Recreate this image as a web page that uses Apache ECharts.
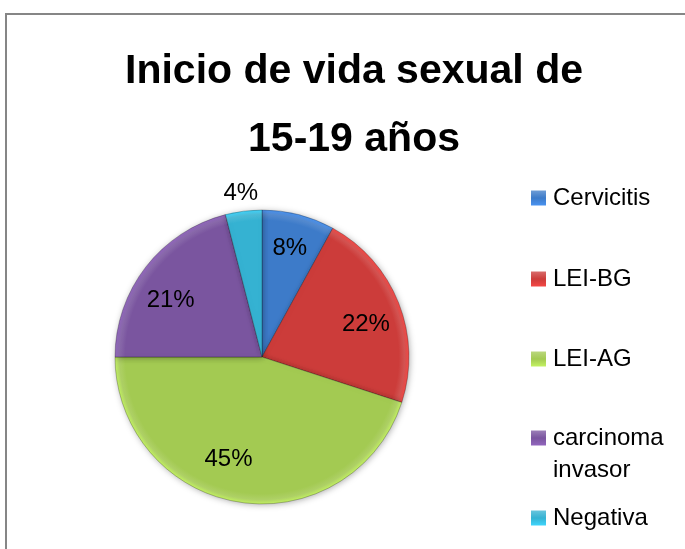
<!DOCTYPE html>
<html>
<head>
<meta charset="utf-8">
<script src="https://cdn.jsdelivr.net/npm/echarts@6/dist/echarts.min.js"></script>
<style>
    html, body { margin: 0; padding: 0; background: #fff; }
    #chart { width: 685px; height: 549px; }
</style>
</head>
<body>
<div id="chart"></div>
<script>
    // datos
    var categorias = ['Cervicitis', 'LEI-BG', 'LEI-AG', 'carcinoma invasor', 'Negativa'];
    var valores = [8, 22, 45, 21, 4];
    var colores = ['#3D7BC9', '#CC3C3A', '#A3CA52', '#7A559F', '#35B2D2'];
    var tituloLineas = ['Inicio de vida sexual de', '15-19 años'];

    var centro = [262, 357];
    var radio = 147;
    var fuente = 'Liberation Sans';
    // posicion vertical de cada entrada de la leyenda
    var leyendaTop = [182, 263, 343, 390, 502];
    // pequeños ajustes de etiquetas (como el "mejor ajuste" de Excel)
    var ajusteEtiqueta = {'LEI-BG': [0, 9], 'LEI-AG': [-16, -8], 'carcinoma invasor': [-3, 12], 'Negativa': [0, 4]};

    function relleno(c) {
        return new echarts.graphic.RadialGradient(centro[0], centro[1], radio, [
            {offset: 0, color: c},
            {offset: 0.93, color: c},
            {offset: 0.97, color: echarts.color.lift(c, 0.12)},
            {offset: 1, color: echarts.color.lift(c, -0.2)}
        ], true);
    }

    function icono(c) {
        return new echarts.graphic.LinearGradient(0, 0, 0, 1, [
            {offset: 0, color: echarts.color.lift(c, 0.25)},
            {offset: 0.5, color: c},
            {offset: 1, color: echarts.color.lift(c, -0.2)}
        ]);
    }

    var chart = echarts.init(document.getElementById('chart'));

    var leyendas = categorias.map(function (n, i) {
        return {
            left: 531,
            top: leyendaTop[i],
            padding: 0,
            icon: 'rect',
            itemWidth: 15,
            itemHeight: 15,
            selectedMode: false,
            data: [{name: n, itemStyle: {color: icono(colores[i]), borderWidth: 0, shadowBlur: 0}}],
            formatter: function (name) {
                // linea vacia arriba para que el icono quede junto a "carcinoma"
                return name === 'carcinoma invasor' ? ' \ncarcinoma\ninvasor' : name;
            },
            textStyle: {fontFamily: fuente, fontSize: 24, lineHeight: 32, color: '#000', padding: [0, 0, 0, 2]}
        };
    });

    var etiqueta = {fontFamily: fuente, fontSize: 24, color: '#000'};

    function datosEtiqueta(mostrar) {
        return categorias.map(function (n, i) {
            return {
                name: n,
                value: valores[i],
                label: {show: mostrar(n), offset: ajusteEtiqueta[n] || [0, 0]}
            };
        });
    }

    chart.setOption({
        animation: false,
        title: {
            text: tituloLineas.join('\n'),
            left: 354,
            top: 38,
            textAlign: 'center',
            padding: 0,
            textStyle: {fontFamily: fuente, fontWeight: 'bold', fontSize: 41, lineHeight: 68, color: '#000'}
        },
        legend: leyendas,
        graphic: [{
            type: 'rect',
            silent: true,
            shape: {x: 6, y: 14, width: 720, height: 600},
            style: {fill: 'none', stroke: '#868686', lineWidth: 2}
        }],
        series: [
            {
                type: 'pie',
                center: centro,
                radius: radio,
                startAngle: 90,
                clockwise: true,
                avoidLabelOverlap: false,
                emphasis: {disabled: true},
                data: categorias.map(function (n, i) {
                    return {name: n, value: valores[i], itemStyle: {color: relleno(colores[i])}};
                }),
                itemStyle: {
                    borderColor: 'rgba(0,0,0,0.25)',
                    borderWidth: 1,
                    shadowBlur: 6,
                    shadowColor: 'rgba(0,0,0,0.3)',
                    shadowOffsetX: 1,
                    shadowOffsetY: 1
                },
                label: {show: false},
                labelLine: {show: false}
            },
            // etiquetas dentro de las porciones
            {
                type: 'pie',
                center: centro,
                radius: radio * 1.48,
                startAngle: 90,
                silent: true,
                avoidLabelOverlap: false,
                emphasis: {disabled: true},
                itemStyle: {color: 'rgba(0,0,0,0)'},
                data: datosEtiqueta(function (n) { return n !== 'Negativa'; }),
                label: Object.assign({position: 'inside', formatter: '{c}%'}, etiqueta),
                labelLine: {show: false}
            },
            // etiqueta de Negativa, fuera del circulo
            {
                type: 'pie',
                center: centro,
                radius: 332,
                startAngle: 90,
                silent: true,
                avoidLabelOverlap: false,
                emphasis: {disabled: true},
                itemStyle: {color: 'rgba(0,0,0,0)'},
                data: datosEtiqueta(function (n) { return n === 'Negativa'; }),
                label: Object.assign({position: 'inside', formatter: '{c}%'}, etiqueta),
                labelLine: {show: false}
            }
        ]
    });
</script>
</body>
</html>
